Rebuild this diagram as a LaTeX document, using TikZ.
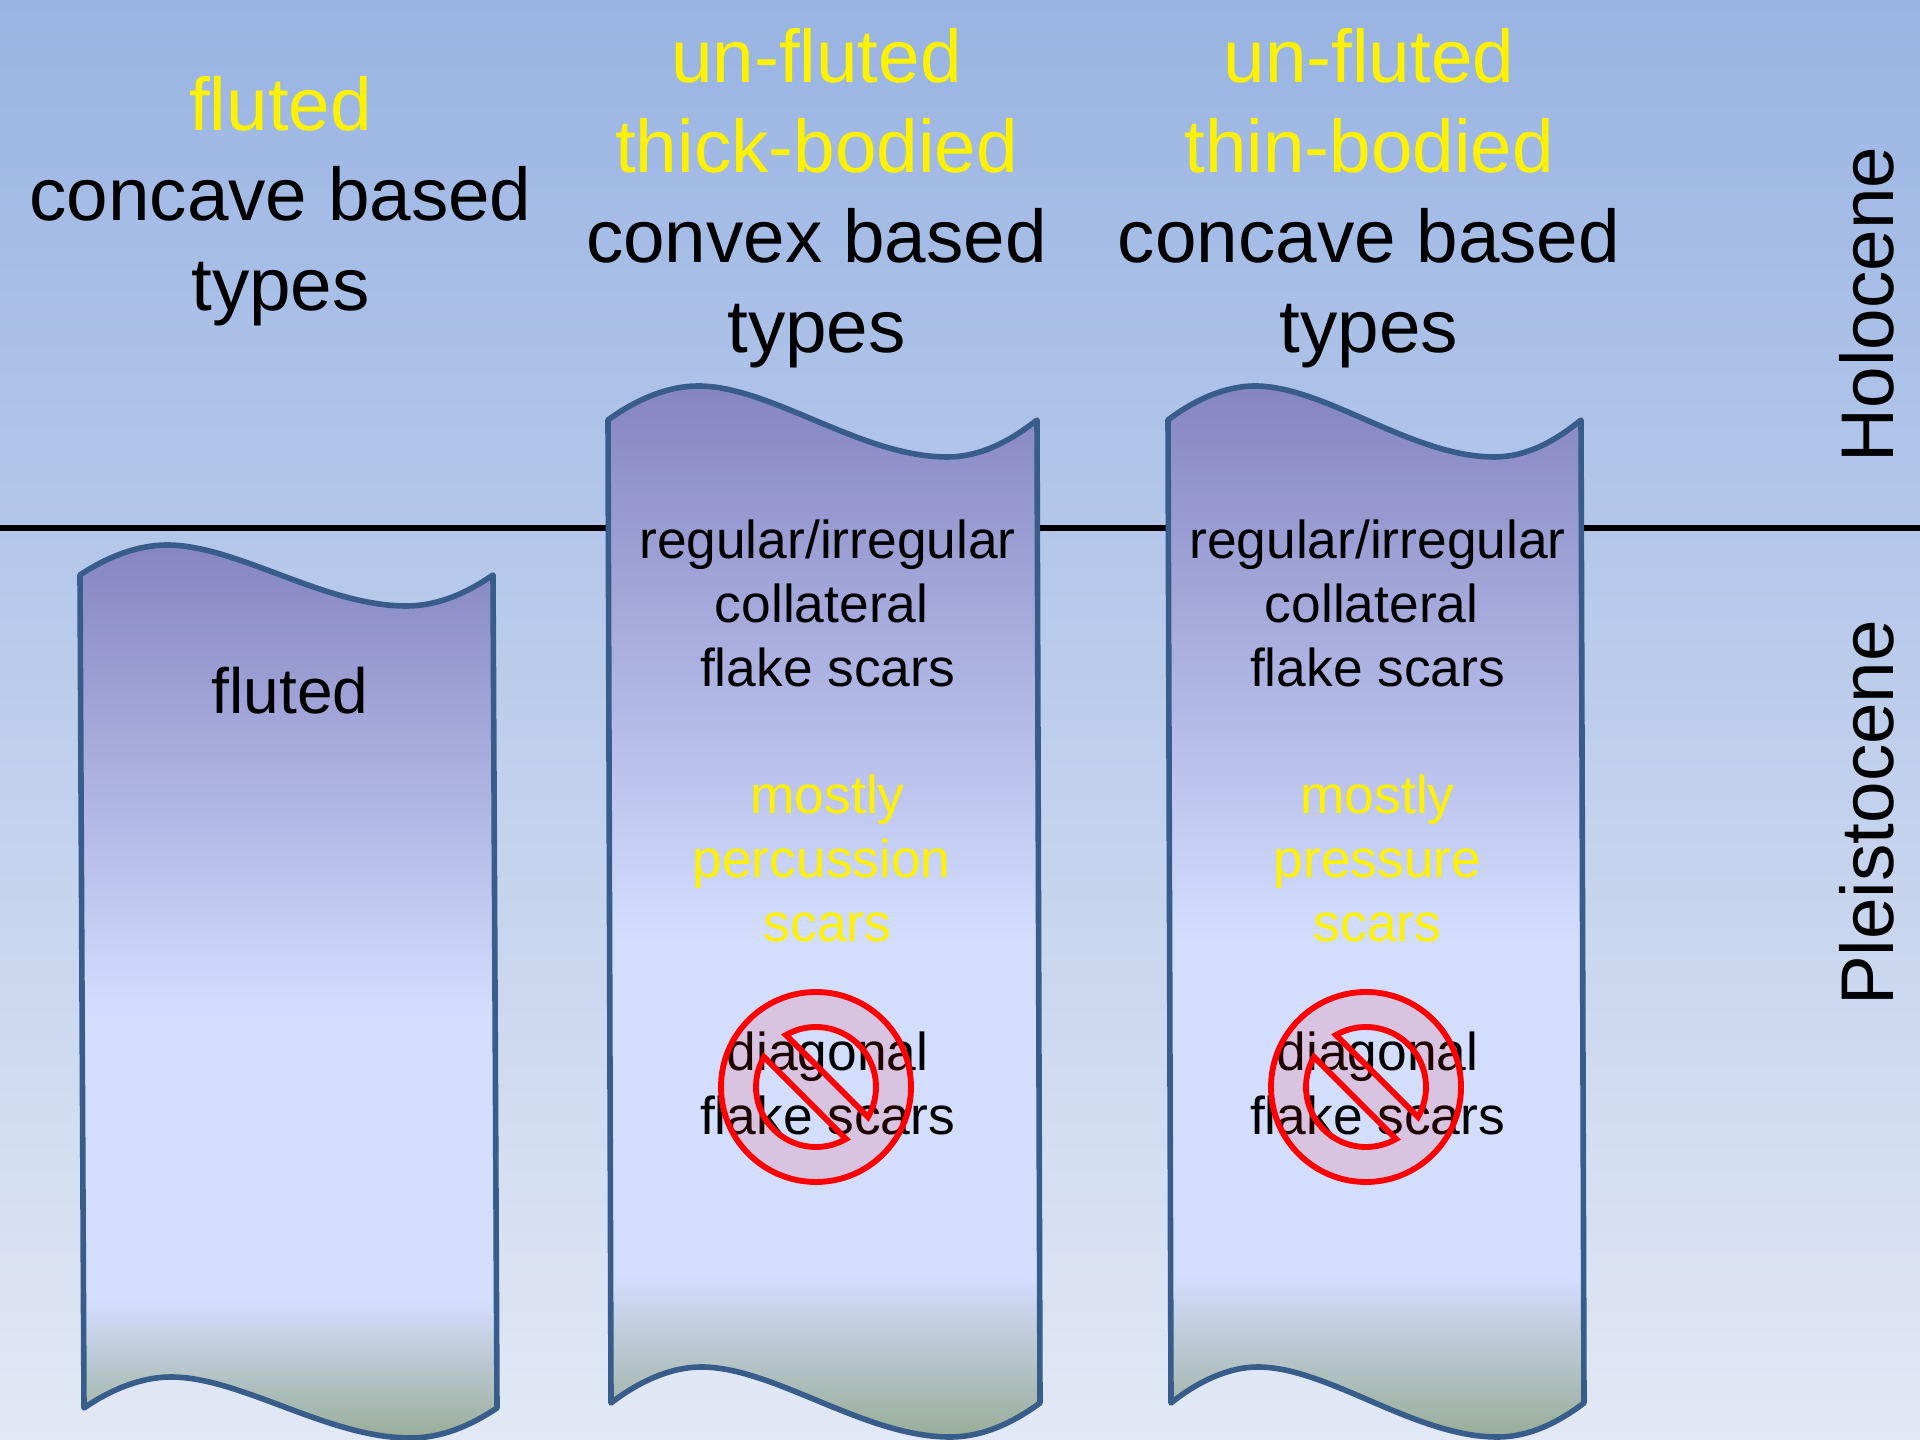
\documentclass[tikz,border=0pt]{standalone}
\usepackage{fontspec}
\setmainfont{Liberation Sans}
\usepackage{xcolor}
\usetikzlibrary{positioning}

\definecolor{skytop}{HTML}{99B4E3}
\definecolor{skybot}{HTML}{E2E8F5}
\definecolor{bladetop}{HTML}{8585C2}
\definecolor{bladeflat}{HTML}{D3DEFF}
\definecolor{bladebot}{HTML}{9BAF9C}
\definecolor{bladeline}{HTML}{385D8A}

\pgfdeclareverticalshading{bladeshade}{100bp}{
	color(0bp)=(bladebot); color(25.3bp)=(bladebot); color(32.7bp)=(bladeflat);
	color(48.5bp)=(bladeflat); color(75bp)=(bladetop); color(100bp)=(bladetop)}

% left, width, top y, top rise, top dip, bottom shift, bottom y, bottom rise, bottom dip
\newcommand{\bladepath}[9]{
	\draw[blade] (#1,#3)
		.. controls ({#1+.065*#2},{#3+.6*#4}) and ({#1+.14*#2},{#3+#4}) .. ({#1+.21*#2},{#3+#4})
		.. controls ({#1+.38*#2},{#3+#4}) and ({#1+.59*#2},{#3-#5}) .. ({#1+.79*#2},{#3-#5})
		.. controls ({#1+.87*#2},{#3-#5}) and ({#1+.94*#2},{#3-.55*#5}) .. ({#1+#2},#3)
		-- ({#1+#2+#6},#7)
		.. controls ({#1+#6+.94*#2},{#7-.55*#9}) and ({#1+#6+.87*#2},{#7-#9}) .. ({#1+#6+.79*#2},{#7-#9})
		.. controls ({#1+#6+.59*#2},{#7-#9}) and ({#1+#6+.38*#2},{#7+#8}) .. ({#1+#6+.21*#2},{#7+#8})
		.. controls ({#1+#6+.14*#2},{#7+#8}) and ({#1+#6+.065*#2},{#7+.6*#8}) .. ({#1+#6},#7)
		-- cycle;
}

\begin{document}
\begin{tikzpicture}[
		x=.375pt, y=.375pt,
		blade/.style={shade, shading=bladeshade, draw=bladeline, line width=2.1pt, line join=round},
		headtext/.style={align=center, font=\fontsize{28}{33.75}\selectfont},
		bodytext/.style={align=center, font=\fontsize{20}{24}\selectfont},
		yellowtext/.style={text=yellow},
		epochtext/.style={rotate=90, font=\fontsize{28}{33.75}\selectfont},
		nosign/.style={draw=red, line width=2.2pt, fill=red, fill opacity=.12, even odd rule}
		]
		
		\useasboundingbox (0,0) rectangle (1920,1440);
		\shade[top color=skytop, bottom color=skybot] (0,0) rectangle (1920,1440);
		
		% Epoch boundary
		\coordinate (lineleft) at (0,912);
		\coordinate (lineright) at (1920,912);
		\draw[line width=2.25pt] (lineleft) -- (lineright);
		
		% Blades
		\bladepath{80}{413}{865}{30}{31}{4}{32}{31}{30}
		\bladepath{608}{429}{1020}{34}{37}{3}{37}{36}{34}
		\bladepath{1168}{413}{1020}{34}{37}{3}{37}{36}{34}
		
		% Nodes
		\node (headone) [headtext] at (280.5,1239) {\textcolor{yellow}{fluted}\\concave based\\types};
		\node (headtwo) [headtext] at (816.5,1242) {\textcolor{yellow}{un-fluted}\\\textcolor{yellow}{thick-bodied}\\convex based\\types};
		\node (headthree) [headtext] at (1369,1242) {\textcolor{yellow}{un-fluted}\\\textcolor{yellow}{thin-bodied}\\concave based\\types};
		
		\node (flutedone) [bodytext, font=\fontsize{24}{28}\selectfont] at (290,749) {fluted};
		
		\node (scarstwo) [bodytext] at (827.5,837) {regular/irregular\\collateral\rule{.22em}{0pt}\\flake scars};
		\node (presstwo) [bodytext, yellowtext, below=95.8pt of scarstwo.center, anchor=center] {mostly\\percussion\rule{.22em}{0pt}\\scars};
		\node (diagtwo) [bodytext, below=84.2pt of presstwo.center, anchor=center] {diagonal\\flake scars};
		
		\node (scarsthree) [bodytext] at (1377.5,837) {regular/irregular\\collateral\rule{.22em}{0pt}\\flake scars};
		\node (pressthree) [bodytext, yellowtext, below=95.8pt of scarsthree.center, anchor=center] {mostly\\pressure\\scars};
		\node (diagthree) [bodytext, below=84.2pt of pressthree.center, anchor=center] {diagonal\\flake scars};
		
		\node (holocene) [epochtext] at (1867,1135.5) {Holocene};
		\node (pleistocene) [epochtext] at (1867,627) {Pleistocene};
		
		% No signs
		\foreach \signx in {816,1366}
			\draw[nosign, shift={(\signx,353)}] (0,0) circle (95)
				(120:60) arc (120:-30:60) -- cycle
				(150:60) arc (150:300:60) -- cycle;
		
	\end{tikzpicture}
\end{document}
